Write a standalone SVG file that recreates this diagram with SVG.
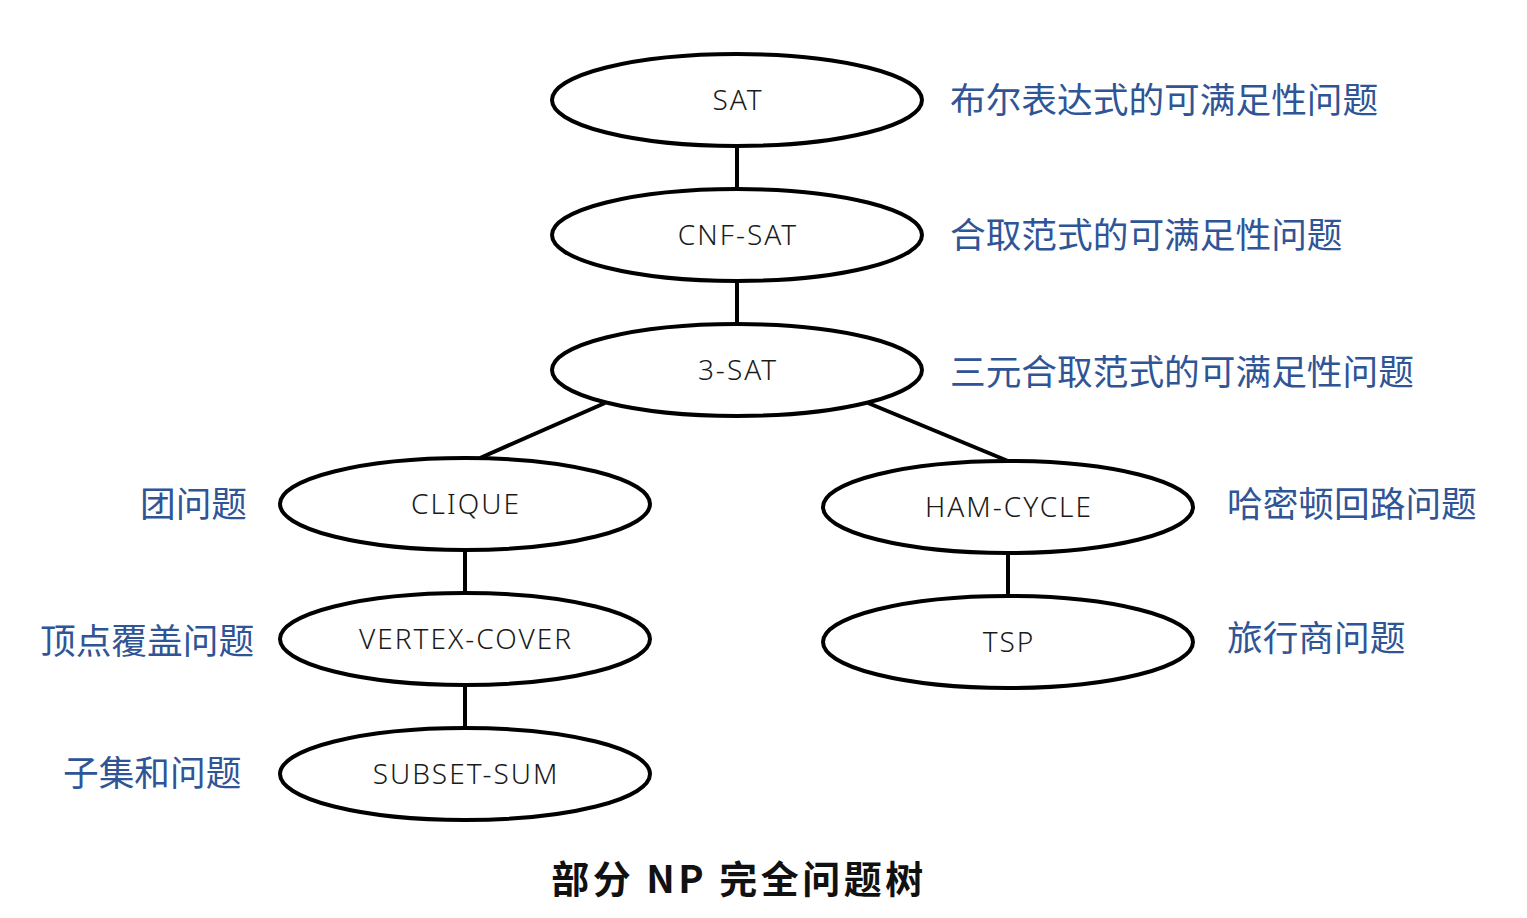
<svg xmlns="http://www.w3.org/2000/svg" width="1527" height="918" viewBox="0 0 1527 918">
<style>
.n{fill:#fff;stroke:#000;stroke-width:4}
.t{font-family:"Noto Sans","Liberation Sans",sans-serif;font-size:28px;font-weight:300;letter-spacing:2px;fill:#1a1a1a;text-anchor:middle}
.c{stroke:#000;stroke-width:4;fill:none}
.b{font-family:"Noto Sans CJK SC",sans-serif;font-size:35.7px;fill:#2F5597}
.title{font-family:"Noto Sans CJK SC",sans-serif;font-size:38px;font-weight:bold;letter-spacing:3.5px;fill:#111;text-anchor:middle}
</style>
<rect width="1527" height="918" fill="#fff"/>
<g id="connectors">
<line class="c" x1="737" y1="146" x2="737" y2="189"/>
<line class="c" x1="737" y1="281" x2="737" y2="324"/>
<line class="c" x1="605" y1="403" x2="480" y2="458"/>
<line class="c" x1="868" y1="403" x2="1008" y2="461"/>
<line class="c" x1="465" y1="550" x2="465" y2="593"/>
<line class="c" x1="465" y1="685" x2="465" y2="728"/>
<line class="c" x1="1008" y1="553" x2="1008" y2="596"/>
</g>
<g id="sat"><ellipse class="n" cx="737" cy="100" rx="185" ry="46"/><text class="t" x="738" y="110">SAT</text></g>
<g id="cnf-sat"><ellipse class="n" cx="737" cy="235" rx="185" ry="46"/><text class="t" x="738" y="245">CNF-SAT</text></g>
<g id="3-sat"><ellipse class="n" cx="737" cy="370" rx="185" ry="46"/><text class="t" x="738" y="380">3-SAT</text></g>
<g id="clique"><ellipse class="n" cx="465" cy="504" rx="185" ry="46"/><text class="t" x="466" y="514">CLIQUE</text></g>
<g id="ham-cycle"><ellipse class="n" cx="1008" cy="507" rx="185" ry="46"/><text class="t" x="1009" y="517">HAM-CYCLE</text></g>
<g id="vertex-cover"><ellipse class="n" cx="465" cy="639" rx="185" ry="46"/><text class="t" x="466" y="649">VERTEX-COVER</text></g>
<g id="tsp"><ellipse class="n" cx="1008" cy="642" rx="185" ry="46"/><text class="t" x="1009" y="652">TSP</text></g>
<g id="subset-sum"><ellipse class="n" cx="465" cy="774" rx="185" ry="46"/><text class="t" x="466" y="784">SUBSET-SUM</text></g>
<g id="labels">
<text class="b" x="950" y="113">布尔表达式的可满足性问题</text>
<text class="b" x="950" y="248">合取范式的可满足性问题</text>
<text class="b" x="950" y="385">三元合取范式的可满足性问题</text>
<text class="b" x="140" y="517">团问题</text>
<text class="b" x="1227" y="517">哈密顿回路问题</text>
<text class="b" x="40" y="654">顶点覆盖问题</text>
<text class="b" x="1227" y="651">旅行商问题</text>
<text class="b" x="63" y="786">子集和问题</text>
</g>
<text class="title" x="739" y="893">部分 NP 完全问题树</text>
</svg>
